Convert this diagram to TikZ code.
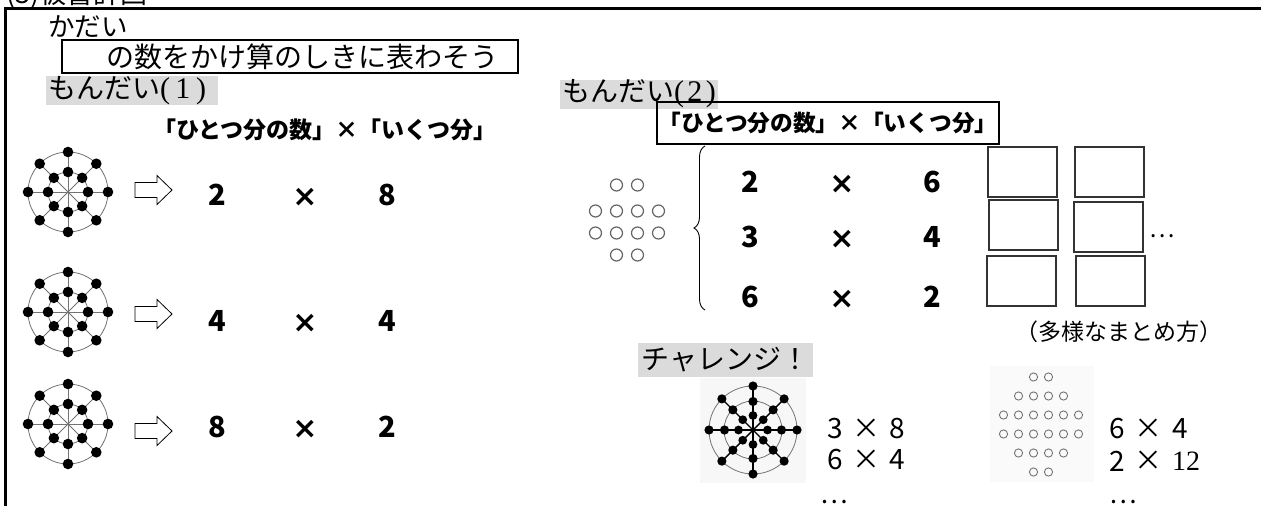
\documentclass[tikz,border=0pt]{standalone}
\usepackage{fontspec}
\setmainfont{Noto Sans CJK JP}
\newfontfamily\numserif{Liberation Serif}
\newfontfamily\timesfont{DejaVu Sans}
\usetikzlibrary{decorations.pathreplacing}

\tikzset{
  jp/.style={font=\fontsize{#1pt}{#1pt}\selectfont},
  jpb/.style={font=\bfseries\fontsize{#1pt}{#1pt}\selectfont},
  hl/.style={fill=black!14, inner xsep=2pt, minimum height=29pt},
  numb/.style={jpb=29},
  timesb/.style={font=\timesfont\bfseries\fontsize{30pt}{30pt}\selectfont},
  numr/.style={jp=28},
  wheelline/.style={draw=black!55, line width=0.8pt},
  spoke/.style={draw=black, line width=1.4pt},
  ring/.style={draw=black!60, line width=1.2pt},
  smallring/.style={draw=black!55, line width=0.9pt},
  blank/.style={draw=black!80, line width=1.3pt, minimum width=69pt, minimum height=50pt, anchor=north west},
  wheel/.pic={
    \draw[wheelline] (0,0) circle[radius=40] (0,0) circle[radius=20];
    \foreach \a in {0,45,...,315} {
      \draw[wheelline] (0,0) -- (\a:40);
      \fill (\a:40) circle[radius=5.3] (\a:20) circle[radius=5.3];
    }
  },
  bigwheel/.pic={
    \fill[black!3] (-53,-52) rectangle (53,53);
    \draw[wheelline] (0,0) circle[radius=44] (0,0) circle[radius=29];
    \foreach \a in {0,45,...,315} {
      \draw[spoke] (0,0) -- (\a:44);
      \fill (\a:44) circle[radius=4.6] (\a:28.5) circle[radius=4.6] (\a:14.5) circle[radius=4.4];
    }
  },
  blockarrow/.pic={
    \draw[line width=0.8pt, line join=miter]
      (0,-7.5) -- (22,-7.5) -- (22,-14.5) -- (37,0) -- (22,14.5) -- (22,7.5) -- (0,7.5) -- cycle;
  }
}

\begin{document}
\begin{tikzpicture}[x=1pt,y=-1pt, every node/.style={inner sep=0pt, outer sep=0pt}]
\useasboundingbox (0,0) rectangle (1261,506);

% heading above the frame
\node[anchor=base west, jp=27] (title) at (6,3) {(3)板書計画};

% frame (top and left edges)
\coordinate (fTL) at (5.5,8.2);
\coordinate (fTR) at (1263,8.2);
\coordinate (fBL) at (5.5,510);
\draw[line width=2.6pt] (fTR) -- (fTL) -- (fBL);

% task
\node[anchor=west, jp=26.5] (kadai) at (48,27) {かだい};
\node[draw, line width=2pt, anchor=west, minimum width=456pt, minimum height=33pt, jp=28]
  (task) at (62,56.5) {\hspace*{43pt}の数をかけ算のしきに表わそう\hspace*{18pt}};

% problem (1)
\node[hl, anchor=west, jp=28] (p1) at (46,90.5)
  {\makebox[168pt][l]{もんだい{\numserif\fontsize{30pt}{30pt}\selectfont\makebox[46pt][s]{(\hfil 1\hfil)}}}};
\node[anchor=west, jpb=23] (h1) at (153,130) {「ひとつ分の数」×「いくつ分」};

\pic at (68,192) {wheel};
\pic at (68,312) {wheel};
\pic at (68,424) {wheel};
\pic at (135,190) {blockarrow};
\pic at (135,314) {blockarrow};
\pic at (135,431) {blockarrow};

\node[numb] (a1) at (217,195) {2};
\node[timesb] (x1) at (305,197) {×};
\node[numb] (b1) at (387,195) {8};
\node[numb] (a2) at (217,321) {4};
\node[timesb] (x2) at (305,323) {×};
\node[numb] (b2) at (387,321) {4};
\node[numb] (a3) at (217,427) {8};
\node[timesb] (x3) at (305,429) {×};
\node[numb] (b3) at (387,427) {2};

% problem (2)
\node[hl, anchor=west, jp=28] (p2) at (560,94)
  {もんだい{\numserif\fontsize{30pt}{30pt}\selectfont\makebox[42pt][s]{(\hfil 2\hfil)}}};
\node[draw, line width=1.8pt, anchor=west, inner xsep=1.5pt, minimum height=42pt, jpb=22.7]
  (h2) at (657,123) {「ひとつ分の数」×「いくつ分」};

% twelve open circles
\foreach \y/\n in {185/2, 211/4, 233/4, 255/2} {
  \foreach \i in {1,...,\n} {
    \draw[ring] ({627 + 21*(\i - (\n+1)/2)}, \y) circle[radius=6];
  }
}

\coordinate (brB) at (705,310);
\coordinate (brT) at (705,146);
\draw[line width=0.9pt, decorate, decoration={brace, amplitude=11pt}] (brB) -- (brT);

\node[numb] (c1) at (750,182) {2};
\node[timesb] (y1) at (842,184) {×};
\node[numb] (d1) at (932,182) {6};
\node[numb] (c2) at (750,237) {3};
\node[timesb] (y2) at (842,239) {×};
\node[numb] (d2) at (932,237) {4};
\node[numb] (c3) at (750,297) {6};
\node[timesb] (y3) at (842,299) {×};
\node[numb] (d3) at (932,297) {2};

\node[blank] (k11) at (988,147) {};
\node[blank] (k12) at (1075,147) {};
\node[blank] (k21) at (989,200) {};
\node[blank] (k22) at (1074,202) {};
\node[blank] (k31) at (987,256) {};
\node[blank] (k32) at (1076,256) {};
\node[jp=24] (more) at (1162,236) {…};

\node[jp=23] (ways) at (1119,332) {（多様なまとめ方）};

% challenge
\node[hl, anchor=west, inner xsep=3.5pt, minimum height=34pt, jp=28] (ch) at (638,360) {チャレンジ！};

\pic at (753,430) {bigwheel};
\node[numr] (e1) at (835,429) {3};
\node[numr] (z1) at (866,429) {×};
\node[numr] (f1) at (897,429) {8};
\node[numr] (e2) at (835,460) {6};
\node[numr] (z2) at (866,460) {×};
\node[numr] (f2) at (897,460) {4};
\node[jp=26] (dotsL) at (834,502) {…};

\fill[black!2] (990,366) rectangle (1094,482);
\foreach \y/\n in {377/2, 396/4, 415/6, 434/6, 453/4, 472/2} {
  \foreach \i in {1,...,\n} {
    \draw[smallring] ({1041 + 15*(\i - (\n+1)/2)}, \y) circle[radius=4.1];
  }
}
\node[numr] (g1) at (1117,429) {6};
\node[numr] (w1) at (1148,429) {×};
\node[numr] (h1r) at (1180,429) {4};
\node[numr] (g2) at (1117,461) {2};
\node[numr] (w2) at (1148,461) {×};
\node[font=\numserif\fontsize{28pt}{28pt}\selectfont] (h2r) at (1186,461) {12};
\node[jp=26] (dotsR) at (1123,502) {…};

\end{tikzpicture}
\end{document}
